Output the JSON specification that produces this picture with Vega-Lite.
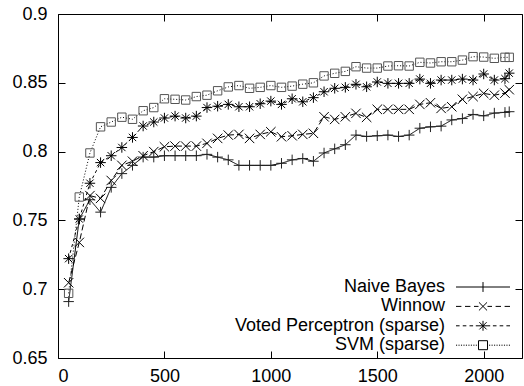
{
  "$schema": "https://vega.github.io/schema/vega-lite/v6.json",
  "autosize": "none",
  "width": 464,
  "height": 344,
  "padding": {"left": 58, "top": 14, "right": 2, "bottom": 28},
  "background": "white",
  "config": {
    "view": {"stroke": "black", "strokeWidth": 1},
    "font": "Liberation Sans",
    "axis": {"domain": false, "grid": false, "tickColor": "black", "tickSize": -7, "tickWidth": 1, "labelFont": "Liberation Sans", "labelFontSize": 18, "labelColor": "black", "title": null}
  },
  "data": {"values": [
    {"n": 50, "Naive Bayes": 0.691, "Winnow": 0.7047, "Voted Perceptron (sparse)": 0.7222, "SVM (sparse)": 0.697},
    {"n": 100, "Naive Bayes": 0.751, "Winnow": 0.734, "Voted Perceptron (sparse)": 0.751, "SVM (sparse)": 0.767},
    {"n": 150, "Naive Bayes": 0.765, "Winnow": 0.768, "Voted Perceptron (sparse)": 0.777, "SVM (sparse)": 0.799},
    {"n": 200, "Naive Bayes": 0.756, "Winnow": 0.766, "Voted Perceptron (sparse)": 0.792, "SVM (sparse)": 0.818},
    {"n": 250, "Naive Bayes": 0.774, "Winnow": 0.779, "Voted Perceptron (sparse)": 0.797, "SVM (sparse)": 0.8215},
    {"n": 300, "Naive Bayes": 0.784, "Winnow": 0.79, "Voted Perceptron (sparse)": 0.803, "SVM (sparse)": 0.825},
    {"n": 350, "Naive Bayes": 0.79, "Winnow": 0.793, "Voted Perceptron (sparse)": 0.8103, "SVM (sparse)": 0.8235},
    {"n": 400, "Naive Bayes": 0.796, "Winnow": 0.797, "Voted Perceptron (sparse)": 0.8186, "SVM (sparse)": 0.8297},
    {"n": 450, "Naive Bayes": 0.796, "Winnow": 0.8, "Voted Perceptron (sparse)": 0.8215, "SVM (sparse)": 0.832},
    {"n": 500, "Naive Bayes": 0.797, "Winnow": 0.8035, "Voted Perceptron (sparse)": 0.8244, "SVM (sparse)": 0.8384},
    {"n": 550, "Naive Bayes": 0.797, "Winnow": 0.804, "Voted Perceptron (sparse)": 0.8258, "SVM (sparse)": 0.838},
    {"n": 600, "Naive Bayes": 0.797, "Winnow": 0.804, "Voted Perceptron (sparse)": 0.8244, "SVM (sparse)": 0.8375},
    {"n": 650, "Naive Bayes": 0.797, "Winnow": 0.804, "Voted Perceptron (sparse)": 0.8258, "SVM (sparse)": 0.84},
    {"n": 700, "Naive Bayes": 0.798, "Winnow": 0.806, "Voted Perceptron (sparse)": 0.832, "SVM (sparse)": 0.841},
    {"n": 750, "Naive Bayes": 0.796, "Winnow": 0.8096, "Voted Perceptron (sparse)": 0.833, "SVM (sparse)": 0.8442},
    {"n": 800, "Naive Bayes": 0.794, "Winnow": 0.812, "Voted Perceptron (sparse)": 0.8343, "SVM (sparse)": 0.847},
    {"n": 850, "Naive Bayes": 0.79, "Winnow": 0.8125, "Voted Perceptron (sparse)": 0.8326, "SVM (sparse)": 0.848},
    {"n": 900, "Naive Bayes": 0.79, "Winnow": 0.8096, "Voted Perceptron (sparse)": 0.8326, "SVM (sparse)": 0.846},
    {"n": 950, "Naive Bayes": 0.79, "Winnow": 0.8125, "Voted Perceptron (sparse)": 0.8348, "SVM (sparse)": 0.8467},
    {"n": 1000, "Naive Bayes": 0.79, "Winnow": 0.8144, "Voted Perceptron (sparse)": 0.8367, "SVM (sparse)": 0.848},
    {"n": 1050, "Naive Bayes": 0.7915, "Winnow": 0.8108, "Voted Perceptron (sparse)": 0.8343, "SVM (sparse)": 0.8467},
    {"n": 1100, "Naive Bayes": 0.794, "Winnow": 0.8115, "Voted Perceptron (sparse)": 0.8384, "SVM (sparse)": 0.8476},
    {"n": 1150, "Naive Bayes": 0.795, "Winnow": 0.8125, "Voted Perceptron (sparse)": 0.8362, "SVM (sparse)": 0.849},
    {"n": 1200, "Naive Bayes": 0.793, "Winnow": 0.8133, "Voted Perceptron (sparse)": 0.8392, "SVM (sparse)": 0.85},
    {"n": 1250, "Naive Bayes": 0.799, "Winnow": 0.8253, "Voted Perceptron (sparse)": 0.8435, "SVM (sparse)": 0.855},
    {"n": 1300, "Naive Bayes": 0.802, "Winnow": 0.8234, "Voted Perceptron (sparse)": 0.846, "SVM (sparse)": 0.8569},
    {"n": 1350, "Naive Bayes": 0.805, "Winnow": 0.8253, "Voted Perceptron (sparse)": 0.8467, "SVM (sparse)": 0.8583},
    {"n": 1400, "Naive Bayes": 0.812, "Winnow": 0.8278, "Voted Perceptron (sparse)": 0.8489, "SVM (sparse)": 0.8617},
    {"n": 1450, "Naive Bayes": 0.811, "Winnow": 0.8249, "Voted Perceptron (sparse)": 0.8471, "SVM (sparse)": 0.8607},
    {"n": 1500, "Naive Bayes": 0.8115, "Winnow": 0.8307, "Voted Perceptron (sparse)": 0.8506, "SVM (sparse)": 0.8607},
    {"n": 1550, "Naive Bayes": 0.812, "Winnow": 0.8307, "Voted Perceptron (sparse)": 0.8496, "SVM (sparse)": 0.8622},
    {"n": 1600, "Naive Bayes": 0.811, "Winnow": 0.8307, "Voted Perceptron (sparse)": 0.8496, "SVM (sparse)": 0.8624},
    {"n": 1650, "Naive Bayes": 0.812, "Winnow": 0.8307, "Voted Perceptron (sparse)": 0.8496, "SVM (sparse)": 0.8622},
    {"n": 1700, "Naive Bayes": 0.817, "Winnow": 0.8343, "Voted Perceptron (sparse)": 0.8527, "SVM (sparse)": 0.8649},
    {"n": 1750, "Naive Bayes": 0.818, "Winnow": 0.8355, "Voted Perceptron (sparse)": 0.8496, "SVM (sparse)": 0.8644},
    {"n": 1800, "Naive Bayes": 0.8185, "Winnow": 0.8314, "Voted Perceptron (sparse)": 0.852, "SVM (sparse)": 0.8653},
    {"n": 1850, "Naive Bayes": 0.823, "Winnow": 0.8326, "Voted Perceptron (sparse)": 0.852, "SVM (sparse)": 0.8653},
    {"n": 1900, "Naive Bayes": 0.824, "Winnow": 0.838, "Voted Perceptron (sparse)": 0.8527, "SVM (sparse)": 0.8665},
    {"n": 1950, "Naive Bayes": 0.827, "Winnow": 0.84, "Voted Perceptron (sparse)": 0.852, "SVM (sparse)": 0.869},
    {"n": 2000, "Naive Bayes": 0.826, "Winnow": 0.8423, "Voted Perceptron (sparse)": 0.8564, "SVM (sparse)": 0.8687},
    {"n": 2050, "Naive Bayes": 0.828, "Winnow": 0.841, "Voted Perceptron (sparse)": 0.852, "SVM (sparse)": 0.8678},
    {"n": 2100, "Naive Bayes": 0.8285, "Winnow": 0.8425, "Voted Perceptron (sparse)": 0.853, "SVM (sparse)": 0.8685},
    {"n": 2120, "Naive Bayes": 0.829, "Winnow": 0.845, "Voted Perceptron (sparse)": 0.857, "SVM (sparse)": 0.8685}
  ]},
  "transform": [
    {"fold": ["Naive Bayes", "Winnow", "Voted Perceptron (sparse)", "SVM (sparse)"], "as": ["series", "acc"]}
  ],
  "resolve": {"scale": {"shape": "independent"}, "axis": {"x": "independent", "y": "independent"}},
  "layer": [
    {
      "mark": {"type": "line", "strokeWidth": 1, "color": "black"},
      "encoding": {
        "x": {"field": "n", "type": "quantitative", "scale": {"domain": [0, 2180], "nice": false, "zero": false},
              "axis": {"orient": "bottom", "values": [0, 500, 1000, 1500, 2000], "format": "d", "labelPadding": 16}},
        "y": {"field": "acc", "type": "quantitative", "scale": {"domain": [0.65, 0.9], "nice": false, "zero": false},
              "axis": {"orient": "left", "values": [0.65, 0.7, 0.75, 0.8, 0.85, 0.9], "format": "~g", "labelPadding": 18}},
        "detail": {"field": "series"},
        "strokeDash": {"field": "series", "type": "nominal", "legend": null,
          "scale": {"domain": ["Naive Bayes", "Winnow", "Voted Perceptron (sparse)", "SVM (sparse)"], "range": [[1, 0], [6, 3], [3, 3], [1, 2]]}}
      }
    },
    {
      "mark": {"type": "point", "filled": false, "size": 110, "strokeWidth": 1, "opacity": 1},
      "encoding": {
        "x": {"field": "n", "type": "quantitative", "axis": {"orient": "top", "values": [0, 500, 1000, 1500, 2000], "labels": false}},
        "y": {"field": "acc", "type": "quantitative", "axis": {"orient": "right", "values": [0.65, 0.7, 0.75, 0.8, 0.85, 0.9], "labels": false}},
        "shape": {"field": "series", "type": "nominal", "legend": null,
          "scale": {"domain": ["Naive Bayes", "Winnow", "Voted Perceptron (sparse)", "SVM (sparse)"],
            "range": ["M -1 0 L 1 0 M 0 -1 L 0 1", "M -0.9 -0.9 L 0.9 0.9 M -0.9 0.9 L 0.9 -0.9", "M -1 0 L 1 0 M 0 -1 L 0 1 M -0.7 -0.7 L 0.7 0.7 M -0.7 0.7 L 0.7 -0.7", "M -0.8 -0.8 L 0.8 -0.8 L 0.8 0.8 L -0.8 0.8 Z"]}},
        "color": {"field": "series", "type": "nominal", "legend": null,
          "scale": {"domain": ["Naive Bayes", "Winnow", "Voted Perceptron (sparse)", "SVM (sparse)"], "range": ["#222222", "#000000", "#000000", "#555555"]}}
      }
    },
    {
      "mark": {"type": "point", "filled": false, "size": 81, "opacity": 0, "color": "black"},
      "encoding": {
        "x": {"field": "n", "type": "quantitative", "axis": null},
        "y": {"field": "acc", "type": "quantitative", "axis": null},
        "shape": {"field": "series", "type": "nominal",
          "scale": {"domain": ["Naive Bayes", "Winnow", "Voted Perceptron (sparse)", "SVM (sparse)"],
            "range": [
              "M -6 0 L 6 0 M 0 -1.1 L 0 1.1",
              "M -6 0 L -4.8 0 M -4 0 L -2.8 0 M -2 0 L -1 0 M -0.9 -0.9 L 0.9 0.9 M -0.9 0.9 L 0.9 -0.9 M 1 0 L 2 0 M 2.8 0 L 4 0 M 4.8 0 L 6 0",
              "M -6 0 L -5.2 0 M -4.5 0 L -3.7 0 M -3 0 L -2.2 0 M -1.6 0 L -1.1 0 M -1.1 0 L 1.1 0 M 0 -1.1 L 0 1.1 M -0.8 -0.8 L 0.8 0.8 M -0.8 0.8 L 0.8 -0.8 M 1.1 0 L 1.6 0 M 2.2 0 L 3 0 M 3.7 0 L 4.5 0 M 5.2 0 L 6 0",
              "M -6 0 L -5.75 0 M -5.45 0 L -5.2 0 M -4.9 0 L -4.65 0 M -4.35 0 L -4.1 0 M -3.8 0 L -3.55 0 M -3.25 0 L -3 0 M -2.7 0 L -2.45 0 M -2.15 0 L -1.9 0 M -1.6 0 L -1.35 0 M -1 -1 L 1 -1 L 1 1 L -1 1 Z M 1.35 0 L 1.6 0 M 1.9 0 L 2.15 0 M 2.45 0 L 2.7 0 M 3 0 L 3.25 0 M 3.55 0 L 3.8 0 M 4.1 0 L 4.35 0 M 4.65 0 L 4.9 0 M 5.2 0 L 5.45 0 M 5.75 0 L 6 0"
            ]},
          "legend": {"orient": "none", "legendX": 416, "legendY": 264, "title": null, "direction": "vertical",
            "symbolSize": 81, "symbolStrokeWidth": 1, "symbolStrokeColor": "black", "symbolFillColor": "transparent", "symbolOpacity": 1,
            "labelAlign": "right", "labelOffset": -47, "labelFontSize": 18, "labelFont": "Liberation Sans", "labelColor": "black", "labelLimit": 0,
            "rowPadding": 1.4, "padding": 0}
        }
      }
    }
  ]
}
